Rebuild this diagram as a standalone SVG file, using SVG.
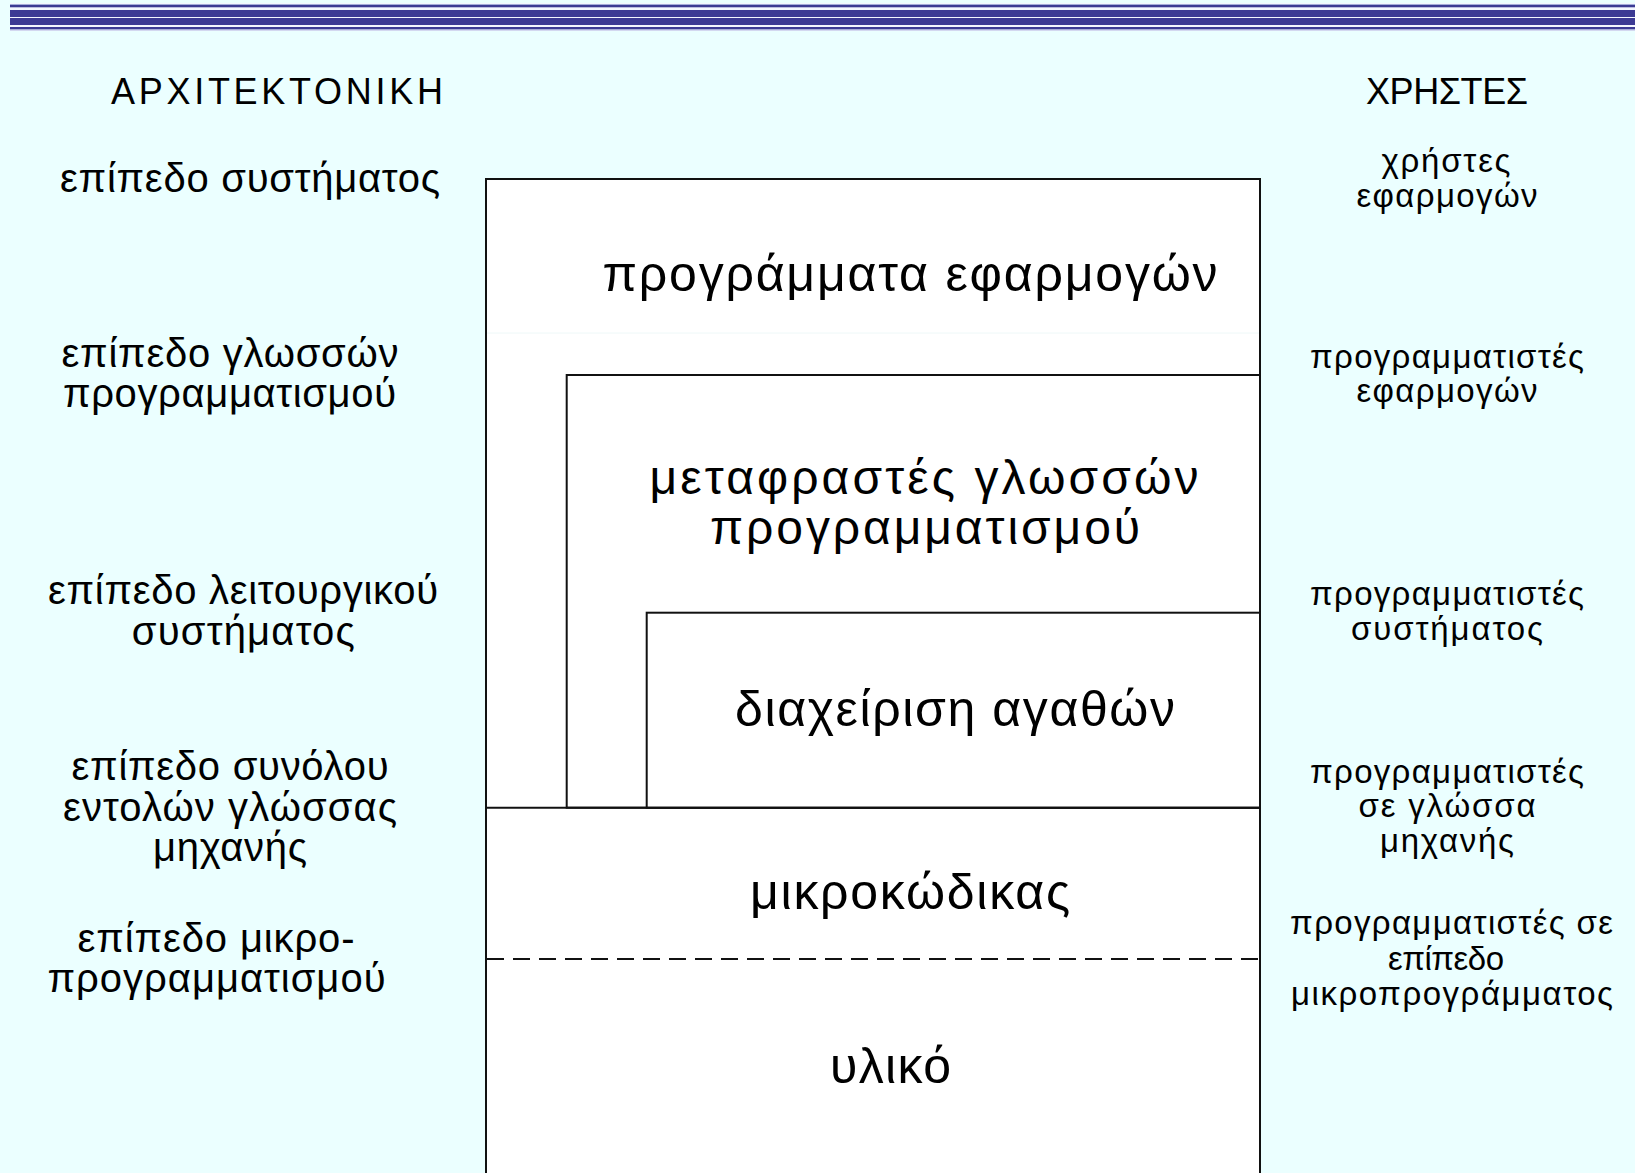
<svg xmlns="http://www.w3.org/2000/svg" width="1635" height="1173" viewBox="0 0 1635 1173">
  <style>
    .bg { fill: #ebffff; }
    .band { fill: #3c3a94; }
    .band-edge { fill: #a3acd9; }
    .box { fill: #ffffff; stroke: #111111; stroke-width: 2; }
    .rule { stroke: #111111; stroke-width: 2; fill: none; }
    .dash { stroke: #111111; stroke-width: 2; fill: none; stroke-dasharray: 17 9; }
    .t { font-family: "Liberation Sans", Arial, "DejaVu Sans", sans-serif; fill: #000000; text-anchor: middle; }
    .head { font-size: 36px; }
    .left { font-size: 40px; }
    .right { font-size: 33px; }
    .mid { font-size: 50px; }
    .mid2 { font-size: 48px; }
  </style>

  <!-- page background -->
  <rect class="bg" x="0" y="0" width="1635" height="1173"/>

  <!-- title banner stripes -->
  <g id="banner">
    <rect x="10" y="3" width="1625" height="28" fill="#f3f6ff"/>
    <rect class="band-edge" x="10" y="4" width="1625" height="1"/>
    <rect class="band" x="10" y="5" width="1625" height="2.3"/>
    <rect class="band" x="10" y="10" width="1625" height="7"/>
    <rect class="band" x="10" y="18" width="1625" height="7"/>
    <rect class="band" x="10" y="27" width="1625" height="2.4"/>
    <rect class="band-edge" x="10" y="29.4" width="1625" height="1"/>
  </g>

  <!-- column headings -->
  <g id="heading-architecture">
    <text class="t head" x="277" y="104" textLength="332">ΑΡΧΙΤΕΚΤΟΝΙΚΗ</text>
  </g>
  <g id="heading-users">
    <text class="t head" x="1447" y="104" textLength="162">ΧΡΗΣΤΕΣ</text>
  </g>

  <!-- layered stack -->
  <g id="layer-applications">
    <rect class="box" x="486" y="179" width="774" height="1010"/>
    <line x1="487" y1="333" x2="1259" y2="333" stroke="#eef8f8" stroke-width="1"/>
    <text class="t mid" x="910" y="291" textLength="615">προγράμματα εφαρμογών</text>
  </g>
  <g id="layer-translators">
    <rect class="box" x="566.7" y="375" width="693.3" height="432.7"/>
    <text class="t mid2" x="924" y="494" textLength="549">μεταφραστές γλωσσών</text>
    <text class="t mid2" x="925" y="544" textLength="430">προγραμματισμού</text>
  </g>
  <g id="layer-resources">
    <rect class="box" x="646.7" y="612.7" width="613.3" height="195"/>
    <text class="t mid" x="955" y="726" textLength="440">διαχείριση αγαθών</text>
  </g>
  <g id="layer-microcode">
    <text class="t mid" x="910" y="909" textLength="320">μικροκώδικας</text>
  </g>
  <g id="layer-hardware">
    <text class="t mid" x="890.5" y="1083" textLength="121">υλικό</text>
  </g>

  <!-- level separators -->
  <g id="dividers">
    <line class="rule" x1="486" y1="807.7" x2="1260" y2="807.7"/>
    <line class="dash" x1="487" y1="959" x2="1259" y2="959"/>
  </g>

  <!-- architecture levels -->
  <g id="level-system">
    <text class="t left" x="250" y="192" textLength="380">επίπεδο συστήματος</text>
  </g>
  <g id="level-languages">
    <text class="t left" x="230" y="367" textLength="337">επίπεδο γλωσσών</text>
    <text class="t left" x="229.5" y="407" textLength="333">προγραμματισμού</text>
  </g>
  <g id="level-os">
    <text class="t left" x="243" y="604" textLength="390">επίπεδο λειτουργικού</text>
    <text class="t left" x="243.3" y="645" textLength="223">συστήματος</text>
  </g>
  <g id="level-isa">
    <text class="t left" x="230" y="780" textLength="317">επίπεδο συνόλου</text>
    <text class="t left" x="230" y="821" textLength="334">εντολών γλώσσας</text>
    <text class="t left" x="230" y="861" textLength="154">μηχανής</text>
  </g>
  <g id="level-microprogramming">
    <text class="t left" x="216" y="952" textLength="277">επίπεδο μικρο-</text>
    <text class="t left" x="216.5" y="992" textLength="338">προγραμματισμού</text>
  </g>

  <!-- user groups -->
  <g id="users-applications">
    <text class="t right" x="1446" y="172" textLength="129">χρήστες</text>
    <text class="t right" x="1447" y="207" textLength="181">εφαρμογών</text>
  </g>
  <g id="users-app-programmers">
    <text class="t right" x="1447" y="368" textLength="274">προγραμματιστές</text>
    <text class="t right" x="1447" y="402" textLength="181">εφαρμογών</text>
  </g>
  <g id="users-system-programmers">
    <text class="t right" x="1447" y="605" textLength="274">προγραμματιστές</text>
    <text class="t right" x="1447" y="640" textLength="192">συστήματος</text>
  </g>
  <g id="users-machine-programmers">
    <text class="t right" x="1447" y="783" textLength="274">προγραμματιστές</text>
    <text class="t right" x="1447" y="817" textLength="177">σε γλώσσα</text>
    <text class="t right" x="1447" y="852" textLength="134">μηχανής</text>
  </g>
  <g id="users-microprogrammers">
    <text class="t right" x="1451.5" y="934" textLength="323">προγραμματιστές σε</text>
    <text class="t right" x="1446" y="970" textLength="116">επίπεδο</text>
    <text class="t right" x="1452" y="1005" textLength="322">μικροπρογράμματος</text>
  </g>
</svg>
